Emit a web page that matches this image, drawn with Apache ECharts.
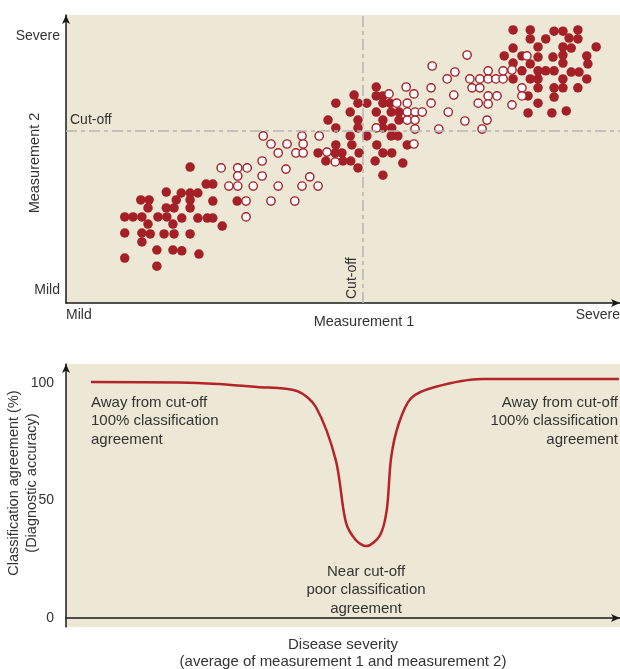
<!DOCTYPE html>
<html>
<head>
<meta charset="utf-8">
<script src="https://cdn.jsdelivr.net/npm/echarts@6/dist/echarts.min.js"></script>
<style>
  html, body { margin: 0; padding: 0; background: #fff; }
  #chart { width: 620px; height: 669px; }
</style>
</head>
<body>
<div id="chart"></div>
<script>
// top panel: measurement 1 (x) vs measurement 2 (y), both on a 0-100 severity scale
const filledPts = [
  [22.4,47.2],[25.3,41.3],[26.5,41.3],
  [18.1,38.5],[20.8,38.2],[22.4,38.2],[23.8,38.2],
  [13.5,35.8],[15.0,35.8],[19.9,35.8],[22.4,35.8],[26.5,35.4],[30.9,35.4],
  [14.8,33.0],[18.1,33.0],[19.5,33.0],[22.4,33.0],
  [10.6,29.9],[12.1,29.9],[13.7,29.9],[16.6,29.9],[18.2,29.9],[20.9,29.5],[23.8,29.5],[25.5,29.5],[26.5,29.5],
  [14.8,27.4],[19.3,27.4],[28.2,26.7],
  [10.6,24.3],[13.7,24.3],[15.2,24.0],[17.7,24.0],[19.5,24.0],[22.4,24.0],
  [13.7,21.2],[16.4,18.4],[19.3,18.4],[20.9,18.1],[24.0,17.0],[10.6,15.6],[16.4,12.8],
  // middle
  [56.0,75.0],[52.0,72.2],[56.0,71.9],[57.2,71.9],
  [48.7,69.4],[52.7,69.4],[54.3,69.4],[57.2,69.4],[58.5,69.4],
  [51.3,66.3],[56.0,66.3],[58.7,66.3],[60.1,66.3],
  [47.3,63.5],[52.7,63.5],[57.2,63.5],[60.1,63.5],
  [48.7,60.8],[52.7,60.8],[57.2,60.8],[58.8,60.8],
  [51.3,58.0],[54.3,58.0],[58.7,58.0],[59.9,58.0],
  [48.7,54.9],[51.6,54.9],[56.1,54.9],[61.6,54.9],
  [45.5,52.1],[48.6,52.1],[49.8,52.1],[52.9,52.1],[57.2,52.1],[58.8,52.1],
  [46.9,49.3],[50.0,49.3],[51.4,49.3],[55.8,49.3],[60.8,48.6],
  [52.7,46.9],[57.2,44.4],
  // upper right
  [80.7,94.8],[83.8,94.8],[88.1,94.4],[89.7,94.4],[92.4,94.8],
  [83.8,91.7],[86.6,91.7],[90.8,92.0],[92.4,91.7],
  [80.7,88.5],[85.2,88.9],[89.7,88.9],[91.2,88.5],[95.7,88.9],
  [79.1,85.8],[82.3,85.8],[85.2,85.4],[87.9,85.4],[89.7,86.1],[94.0,85.8],
  [80.7,83.3],[83.8,83.0],[89.7,83.3],[94.2,83.0],
  [82.3,80.6],[85.2,80.6],[86.6,80.6],[88.1,80.6],[91.2,80.2],[92.6,80.2],
  [80.7,77.8],[83.8,77.8],[85.2,77.8],[89.7,77.8],[94.0,77.8],
  [85.2,74.7],[88.1,74.7],[89.7,74.7],[92.4,74.7],
  [83.4,71.9],[88.1,71.5],[85.2,69.4],
  [83.4,66.0],[87.7,66.0],[90.3,66.7]
];

const openPts = [
  [28.0,46.9],[31.0,46.9],[32.7,46.9],[35.4,49.3],[38.3,52.1],
  [31.0,44.1],[35.4,44.1],[39.7,46.5],[44.0,43.8],
  [29.4,40.6],[31.0,40.6],[33.8,40.6],[38.3,40.6],[42.6,40.6],[45.5,40.6],
  [32.5,35.4],[37.0,35.4],[41.3,35.4],[32.5,29.9],
  [35.6,58.0],[42.6,58.0],[45.7,58.0],
  [37.0,55.2],[39.9,55.2],[42.8,55.2],
  [41.5,52.1],[42.8,52.1],[47.1,52.4],[48.6,49.0],[56.0,60.8],
  [58.3,72.6],[61.4,75.0],[62.8,72.6],[59.7,69.4],[61.6,69.4],
  [65.9,74.7],[66.1,82.3],[70.2,80.2],[72.4,86.1],
  [68.8,77.8],[72.9,77.8],[74.7,77.8],[76.2,77.8],[77.6,77.8],[78.9,77.8],
  [76.2,80.6],[78.9,80.6],[80.5,80.9],
  [73.3,74.7],[74.7,74.7],[82.3,74.7],
  [70.0,72.2],[76.2,71.9],[77.8,71.9],[82.3,71.9],
  [65.9,69.4],[74.4,69.4],[76.2,69.1],[80.5,68.8],[83.2,85.8],
  [61.6,66.3],[63.0,66.3],[64.3,66.3],[69.0,66.3],
  [61.6,63.5],[63.0,63.5],[72.0,63.2],[76.0,63.5],
  [63.0,60.4],[67.3,60.4],[75.1,60.4],[62.8,55.2]
];

const cutX = 53.6;
const cutY = 59.7;
const topXTicks = [0, 100];
const topXTickText = ['Mild', 'Severe'];
const topYTicks = [4.5, 92.7];
const topYTickText = ['Mild', 'Severe'];

// bottom panel: agreement vs disease severity
const severity = [4.5, 23.8, 34.5, 41.7, 45.1, 48.7, 50.5, 52.3, 54.2, 56.7, 57.9, 58.7, 60.1, 62.3, 66.6, 75.1, 99.8];
const agreement = [100.4, 100, 98.3, 96.6, 89.8, 67.2, 40.9, 33.2, 30.6, 35.3, 46, 68.5, 83, 93.6, 98.3, 101.7, 101.7];
const agreeTicks = [0, 50, 100];

const RED = '#a51f26';
const TXT = '#333333';
const FONT = "'Liberation Sans', Arial, sans-serif";
const axisLine = {
  show: true,
  symbol: ['none', 'arrow'],
  symbolSize: [6, 9],
  lineStyle: { color: '#1a1a1a', width: 1.5 }
};

const chart = echarts.init(document.getElementById('chart'));
chart.setOption({
  backgroundColor: '#fff',
  textStyle: { fontFamily: FONT },
  animation: false,
  grid: [
    { left: 66, right: 0, top: 15, height: 288, show: true, backgroundColor: '#ece8d5', borderWidth: 0,
      containLabel: false, outerBoundsMode: 'none' },
    { left: 66, right: 0, top: 364, bottom: 42, show: true, backgroundColor: '#ece8d5', borderWidth: 0,
      containLabel: false, outerBoundsMode: 'none' }
  ],
  xAxis: [
    {
      gridIndex: 0, type: 'value', min: 0, max: 100,
      axisLine, axisTick: { show: false }, splitLine: { show: false },
      axisLabel: {
        customValues: topXTicks, margin: 5, color: TXT, fontSize: 14,
        alignMinLabel: 'left', alignMaxLabel: 'right',
        formatter: v => topXTickText[topXTicks.indexOf(v)]
      }
    },
    {
      gridIndex: 1, type: 'value', min: 0, max: 100,
      axisLine, axisTick: { show: false }, splitLine: { show: false },
      axisLabel: { show: false },
      name: 'Disease severity\n(average of measurement 1 and measurement 2)',
      nameLocation: 'middle', nameGap: 9,
      nameTextStyle: { color: TXT, fontSize: 15, lineHeight: 17.5, verticalAlign: 'top' }
    }
  ],
  yAxis: [
    {
      gridIndex: 0, type: 'value', min: 0, max: 100,
      axisLine, axisTick: { show: false }, splitLine: { show: false },
      axisLabel: {
        customValues: topYTicks, margin: 6, color: TXT, fontSize: 14,
        formatter: v => topYTickText[topYTicks.indexOf(v)]
      }
    },
    {
      gridIndex: 1, type: 'value', min: -3.83, max: 108.1,
      axisLine, axisTick: { show: false }, splitLine: { show: false },
      axisLabel: { customValues: agreeTicks, margin: 12, color: TXT, fontSize: 14 }
    }
  ],
  graphic: [
    {
      type: 'text', x: 364, y: 322,
      style: {
        text: 'Measurement 1',
        fill: TXT, font: '14.5px ' + FONT,
        align: 'center', verticalAlign: 'middle'
      }
    },
    {
      type: 'text', x: 35, y: 163, rotation: Math.PI / 2,
      style: {
        text: 'Measurement 2',
        fill: TXT, font: '14.5px ' + FONT,
        align: 'center', verticalAlign: 'middle'
      }
    },
    {
      type: 'text', x: 23, y: 483, rotation: Math.PI / 2,
      style: {
        text: 'Classification agreement (%)\n(Diagnostic accuracy)',
        fill: TXT, font: '14.5px ' + FONT, lineHeight: 18,
        align: 'center', verticalAlign: 'middle'
      }
    },
    {
      type: 'text', x: 91, y: 421,
      style: {
        text: 'Away from cut-off\n100% classification\nagreement',
        fill: TXT, font: '15px ' + FONT, lineHeight: 18.5,
        align: 'left', verticalAlign: 'middle'
      }
    },
    {
      type: 'text', x: 618, y: 421,
      style: {
        text: 'Away from cut-off\n100% classification\nagreement',
        fill: TXT, font: '15px ' + FONT, lineHeight: 18.5,
        align: 'right', verticalAlign: 'middle'
      }
    },
    {
      type: 'text', x: 366, y: 590,
      style: {
        text: 'Near cut-off\npoor classification\nagreement',
        fill: TXT, font: '15px ' + FONT, lineHeight: 18.5,
        align: 'center', verticalAlign: 'middle'
      }
    }
  ],
  series: [
    {
      type: 'scatter', xAxisIndex: 0, yAxisIndex: 0,
      data: filledPts, symbolSize: 9.5,
      itemStyle: { color: RED, opacity: 1 },
      z: 3,
      markLine: {
        silent: true, symbol: 'none',
        lineStyle: { color: '#b4b4b4', width: 1.5, type: [11, 4, 4, 4] },
        label: { show: true, formatter: 'Cut-off', color: TXT, fontSize: 14, position: 'insideStartTop', distance: 4 },
        data: [{ yAxis: cutY }, { xAxis: cutX }]
      }
    },
    {
      type: 'scatter', xAxisIndex: 0, yAxisIndex: 0,
      data: openPts, symbolSize: 8.3,
      itemStyle: { color: '#ffffff', borderColor: RED, borderWidth: 1.4, opacity: 1 },
      z: 4
    },
    {
      type: 'line', xAxisIndex: 1, yAxisIndex: 1,
      data: severity.map((s, i) => [s, agreement[i]]),
      smooth: 0.3, showSymbol: false,
      lineStyle: { color: '#b5232b', width: 2.5 }
    }
  ]
});
</script>
</body>
</html>
